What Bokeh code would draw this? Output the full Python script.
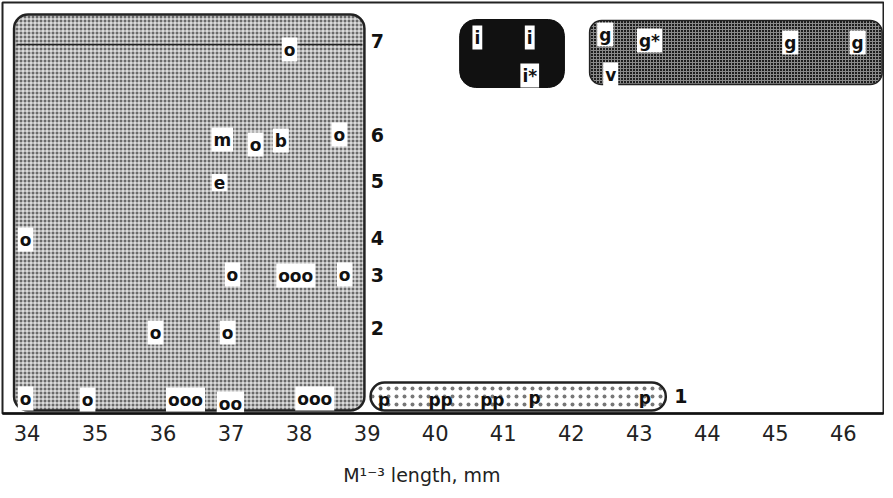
from bokeh.plotting import figure
from bokeh.models import Range1d, FixedTicker
from bokeh.core.properties import value
from bokeh.embed import file_html
from bokeh.resources import INLINE

FONT = "DejaVu Sans"

# x axis ticks (M1-3 length, mm)
ticks = [34, 35, 36, 37, 38, 39, 40, 41, 42, 43, 44, 45, 46]
axis_title = "M\u00b9\u207b\u00b3  length, mm"

# group envelopes: x extent (mm) and vertical extent (row scale)
big_x = [33.81, 38.96]
big_y = [0.3, 39.9]
i_x = [40.36, 41.90]
i_y = [32.6, 39.4]
g_x = [42.27, 46.57]
g_y = [32.9, 39.3]
p_x = [39.05, 43.39]
p_y = [0.3, 3.1]
row7_line_x = [33.85, 38.93]
row7_line_y = [36.9, 36.9]

# specimens: length (mm), vertical position, taxon letter
pt_x = [37.86, 40.62, 41.39, 41.39, 42.50, 43.15, 45.22, 46.21, 42.58,
        36.87, 37.36, 37.73, 38.59,
        36.83,
        33.98,
        37.02, 37.95, 38.67,
        35.89, 36.95,
        33.98, 34.89, 36.33, 36.99, 38.23,
        39.25, 40.08, 40.84, 41.46, 43.08]
pt_y = [36.4, 37.6, 37.6, 33.8, 37.9, 37.3, 37.1, 37.1, 33.9,
        27.4, 26.9, 27.3, 27.9,
        23.1,
        17.4,
        13.9, 13.8, 13.9,
        8.1, 8.1,
        1.5, 1.4, 1.4, 1.0, 1.5,
        1.4, 1.4, 1.4, 1.6, 1.6]
pt_text = ["o", "i", "i", "i*", "g", "g*", "g", "g", "v",
           "m", "o", "b", "o",
           "e",
           "o",
           "o", "ooo", "o",
           "o", "o",
           "o", "o", "ooo", "oo", "ooo",
           "p", "pp", "pp", "p", "p"]

# row numbers
row_names = ["7", "6", "5", "4", "3", "2", "1"]
row_x = [39.15, 39.15, 39.15, 39.15, 39.15, 39.15, 43.61]
row_y = [37.3, 27.9, 23.3, 17.6, 13.9, 8.6, 1.8]

# letters in the pale p envelope have no white label box
label_bg = [None if t.startswith("p") else "white" for t in pt_text]

p = figure(frame_width=881, frame_height=411, output_backend="svg", toolbar_location=None,
           x_range=Range1d(33.64, 46.59), y_range=Range1d(0, 41.1),
           min_border_left=2, min_border_right=1, min_border_top=2, min_border_bottom=40,
           y_axis_location=None, background_fill_color="white",
           border_fill_color="white")
p.grid.visible = False
p.outline_line_color = "#222222"
p.outline_line_width = 2

# big gray envelope
p.quad(left=[big_x[0]], right=[big_x[1]], bottom=[big_y[0]], top=[big_y[1]],
       fill_color="#6a6a6a", hatch_pattern="+", hatch_color="white",
       hatch_scale=4, hatch_weight=1, line_color="#222222", line_width=2.5,
       border_radius=14)
p.line(row7_line_x, row7_line_y, line_color="#222222", line_width=1.5)

# p envelope (pill)
p.quad(left=[p_x[0]], right=[p_x[1]], bottom=[p_y[0]], top=[p_y[1]],
       fill_color="white", hatch_pattern="dot", hatch_color="#777777",
       hatch_scale=8, hatch_weight=1, line_color="#222222", line_width=2.5,
       border_radius=14)

# black i envelope
p.quad(left=[i_x[0]], right=[i_x[1]], bottom=[i_y[0]], top=[i_y[1]],
       fill_color="#111111", line_color="#111111", line_width=1,
       border_radius=16)

# dark g envelope
p.quad(left=[g_x[0]], right=[g_x[1]], bottom=[g_y[0]], top=[g_y[1]],
       fill_color="#1e1e1e", hatch_pattern="+", hatch_color="#8a8a8a",
       hatch_scale=3, hatch_weight=1, line_color="#222222", line_width=1.5,
       border_radius=12)

# specimen letters
p.text(x=pt_x, y=pt_y, text=pt_text, text_font=value(FONT), text_font_style="bold",
       text_font_size="17px", text_color="#111111", text_align="center",
       text_baseline="middle", background_fill_color=label_bg, padding=2)

# row numbers
p.text(x=row_x, y=row_y, text=row_names, text_font=value(FONT), text_font_style="bold",
       text_font_size="19px", text_color="#111111", text_align="center",
       text_baseline="middle")

ax = p.xaxis[0]
ax.ticker = FixedTicker(ticks=ticks)
ax.major_tick_line_color = None
ax.minor_tick_line_color = None
ax.axis_line_color = "#111111"
ax.axis_line_width = 2.5
ax.major_label_text_font = FONT
ax.major_label_text_font_size = "21px"
ax.major_label_text_color = "#222222"
ax.major_label_standoff = 5
ax.axis_label = axis_title + "\u00a0" * 6
ax.axis_label_text_font = FONT
ax.axis_label_text_font_size = "19px"
ax.axis_label_text_font_style = "normal"
ax.axis_label_text_color = "#222222"
ax.axis_label_standoff = 20

open("out.html", "w").write(file_html(p, INLINE))
